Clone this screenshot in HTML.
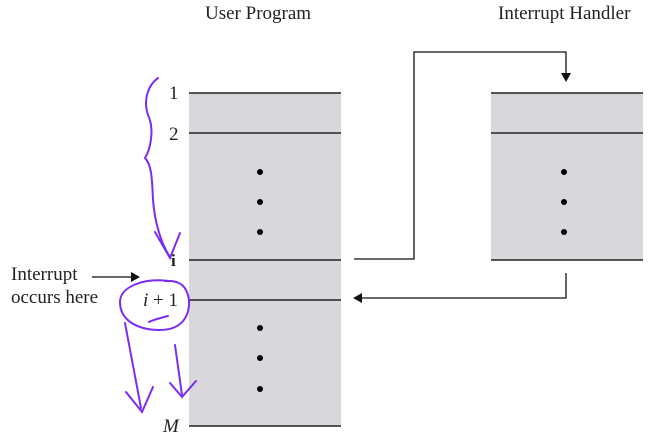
<!DOCTYPE html>
<html><head><style>body{margin:0;background:#fff}svg{display:block}</style></head><body>
<svg width="666" height="433" viewBox="0 0 666 433" xmlns="http://www.w3.org/2000/svg" font-family="Liberation Serif, serif">
<rect x="189" y="93" width="152" height="333" fill="#d9d7db"/>
<rect x="491" y="93" width="152" height="167" fill="#d9d7db"/>
<g stroke="#222" stroke-width="1.5">
<line x1="189" y1="93" x2="341" y2="93"/><line x1="189" y1="133" x2="341" y2="133"/>
<line x1="189" y1="260" x2="341" y2="260"/><line x1="189" y1="300" x2="341" y2="300"/>
<line x1="189" y1="426" x2="341" y2="426"/>
<line x1="491" y1="93" x2="643" y2="93"/><line x1="491" y1="133" x2="643" y2="133"/>
<line x1="491" y1="260" x2="643" y2="260"/>
</g>
<g fill="#000">
<circle cx="260" cy="172" r="3"/><circle cx="260" cy="202" r="3"/><circle cx="260" cy="232" r="3"/>
<circle cx="260" cy="328" r="3"/><circle cx="260" cy="358" r="3"/><circle cx="260" cy="389" r="3"/>
<circle cx="564" cy="172" r="3"/><circle cx="564" cy="202" r="3"/><circle cx="564" cy="232" r="3"/>
</g>
<g fill="none" stroke="#111" stroke-width="1.3">
<polyline points="354,259 414,259 414,52 566,52 566,74"/>
<polyline points="566,273 566,298 362,298"/>
<line x1="92" y1="277" x2="132" y2="277"/>
</g>
<polygon points="561,73 571,73 566,82" fill="#111"/>
<polygon points="362,293 362,303 353,298" fill="#111"/>
<polygon points="131,272 131,282 140,277" fill="#111"/>
<g font-size="19" fill="#222">
<text x="205" y="19">User Program</text>
<text x="498" y="19">Interrupt Handler</text>
<text x="169" y="99">1</text>
<text x="169" y="140">2</text>
<text x="171" y="266" font-weight="bold" font-size="17">i</text>
<text x="143" y="306"><tspan font-style="italic">i</tspan> + 1</text>
<text x="163" y="432" font-style="italic">M</text>
<text x="11" y="280">Interrupt</text>
<text x="11" y="303">occurs here</text>
</g>
<g fill="none" stroke="#7b2cf0" stroke-width="2" stroke-linecap="round">
<path d="M158,78 C148,85 143,100 148,115 C155,130 150,150 145,158 C152,165 152,180 153,200 C155,225 162,245 170,257"/>
<path d="M155,232 L170,258 L180,233"/>
<path d="M168,281 C145,278 120,286 120,302 C120,322 140,330 160,330 C180,330 190,318 189,300 C187,286 180,280 165,281"/>
<path d="M168,316 C160,318 153,320 149,322"/>
<path d="M125,323 L141,408"/>
<path d="M126,392 L142,412 L153,387"/>
<path d="M175,345 L182,395"/>
<path d="M170,383 L182,397 L196,381"/>
</g>
</svg>
</body></html>
